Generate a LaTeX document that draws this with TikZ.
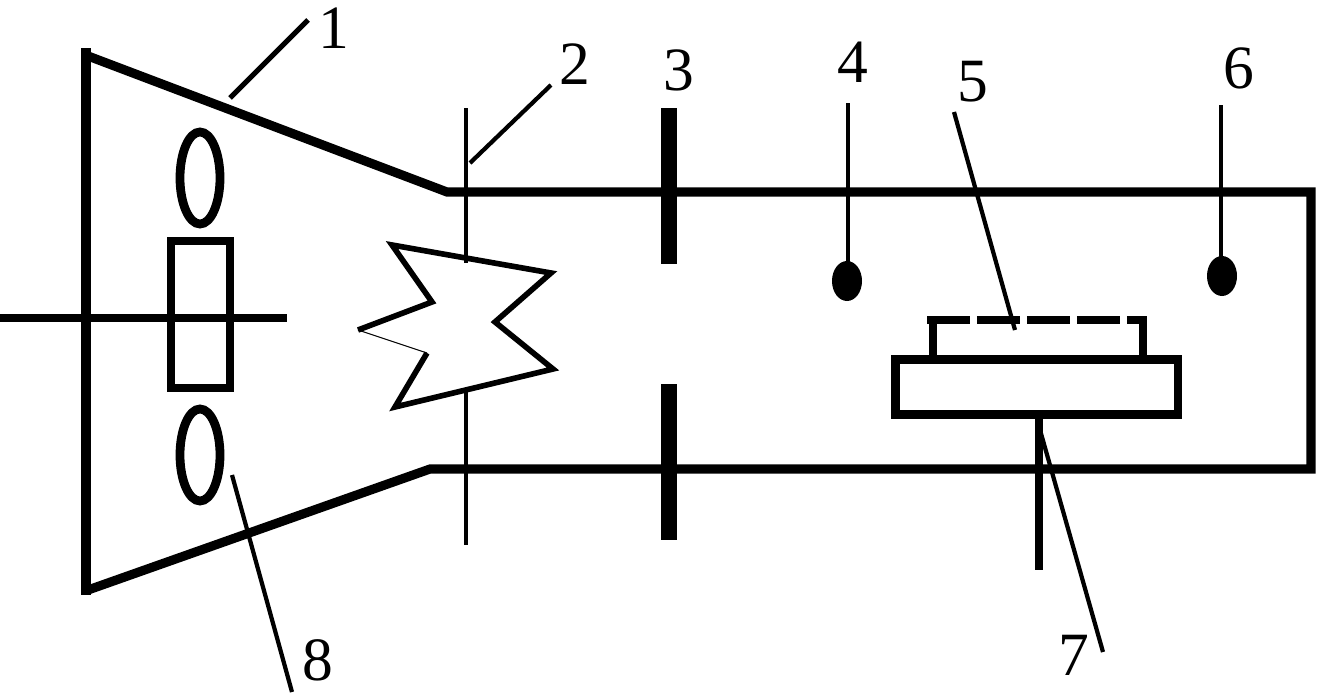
\documentclass[tikz,border=0pt]{standalone}
\usepackage{fontspec}
\setmainfont{Liberation Serif}
\tikzset{
    wall/.style={line width=2.6pt, line join=miter},
    part/.style={line width=2.5pt},
    thinline/.style={line width=1.2pt},
    numlabel/.style={inner sep=0pt, font=\fontsize{17.5}{17.5}\selectfont}
}

\begin{document}
\begin{tikzpicture}[x=0.01cm, y=-0.01cm]
        \useasboundingbox (0,0) rectangle (1318,694);

        % tube
        \draw[wall, line width=2.8pt] (86,48)--(86,595);
        \draw[wall] (88,56)--(447,192)--(1311,192)--(1311,469)--(430,469)--(88,590);

        % gun
        \draw[part] (0,318)--(287,318);
        \draw[part] (171,241) rectangle (230,388);
        \draw[part] (200,178) ellipse (20 and 46);
        \draw[part] (200,455) ellipse (20 and 46);

        % screen
        \draw[thinline] (466,108)--(466,263);
        \draw[thinline] (466,388)--(466,545);
        \draw[line width=1.6pt, line join=miter] (427,353)--(395,407)--(553,369)--(495,322)--(551,273)--(392,245)--(432,302)--(358,330);
        \draw[line width=0.3pt] (358,330)--(427,353);

        % diaphragms
        \foreach \ypos in {108,384}
            \draw[line width=4.5pt] (669,\ypos)--(669,\ypos+156);

        % probes
        \draw[thinline] (848,103)--(848,265);
        \fill (847,281) ellipse (15 and 20);
        \draw[thinline] (1221,105)--(1221,260);
        \fill (1222,276) ellipse (15 and 20);

        % sample holder
        \draw[part, dash pattern=on 12.2pt off 2pt] (927,320)--(1147,320);
        \draw[part] (933,320)--(933,358);
        \draw[part] (1143,320)--(1143,358);
        \draw[part] (895.5,359.5) rectangle (1178,414.5);
        \draw[part] (1039,419)--(1039,570);

        % leaders
        \draw[line width=1.5pt] (230,98)--(308,20);
        \draw[thinline] (470,163)--(551,85);
        \draw[thinline] (954,112)--(1015,330);
        \draw[thinline] (1040,430)--(1103,652);
        \draw[thinline] (232,475)--(292,692);

        \foreach \pos/\num in {(334,28)/1,(575,64)/2,(679,70)/3,(853,62)/4,(973,82)/5,(1239,68)/6,(1074,655)/7,(318,660)/8}
            \node[numlabel] (lab\num) at \pos {\num};
    \end{tikzpicture}
\end{document}
